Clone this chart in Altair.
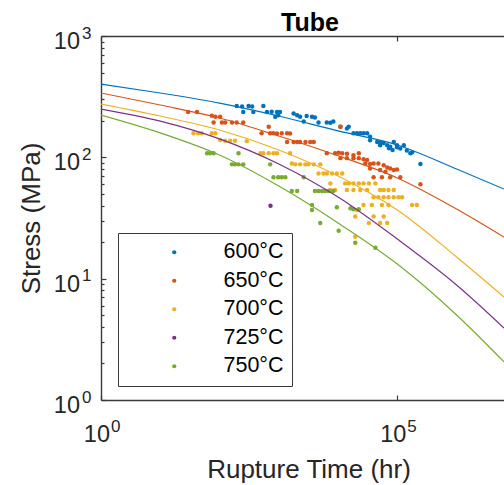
import altair as alt
import pandas as pd

# ---------------- data ----------------
temps = ["600°C", "650°C", "700°C", "725°C", "750°C"]
colors = ["#0072BD", "#D95319", "#EDB120", "#7E2F8E", "#77AC30"]

# test points: log10(rupture time, hr) and stress (MPa)
lt600 = [2.29, 2.38, 2.40, 2.49, 2.55, 2.57, 2.74, 2.80, 2.88, 2.97, 3.02, 2.94, 2.99, 3.25, 3.31,
         3.36, 3.42, 3.47, 3.56, 3.61, 3.67, 3.81, 3.87, 3.92, 4.04, 4.15, 4.18, 4.26, 4.32, 4.375,
         4.43, 4.49, 4.54, 4.54, 4.66, 4.71, 4.71, 4.77, 4.83, 4.86, 4.88, 4.92, 4.94, 4.995, 4.995,
         5.05, 5.11, 5.16, 5.22, 5.25, 5.39]
s600 = [265, 262, 236, 265, 262, 236, 265, 236, 238, 236, 236, 216, 222, 230, 222,
        216, 197, 219, 216, 213, 194, 194, 193, 197, 179, 173, 179, 158, 158, 158,
        158, 158, 148, 138, 134, 132, 126, 131, 126, 119, 122, 115, 134, 126, 121,
        118, 126, 114, 108, 110, 88]

lt650 = [1.47, 1.62, 1.87, 1.93, 2.01, 1.90, 2.04, 2.095, 2.21, 2.29, 2.40, 2.83, 2.71, 2.855, 2.91,
         2.97, 3.05, 3.14, 3.19, 3.14, 3.25, 3.31, 3.36, 3.45, 3.53, 3.59, 3.81, 3.95, 4.01, 4.07,
         4.15, 4.26, 4.35, 4.04, 4.15, 4.26, 4.35, 4.43, 4.49, 4.46, 4.54, 4.60, 4.68, 4.77, 4.83,
         4.88, 4.94, 4.995, 4.54, 4.71, 4.80, 4.60, 4.74, 4.88, 5.05, 5.39, 4.04]
s650 = [236, 236, 220, 216, 216, 194, 194, 194, 194, 194, 194, 179, 158, 158, 158,
        157, 158, 158, 157, 134, 134, 134, 134, 134, 134, 134, 108, 108, 109, 108,
        107, 104, 108, 98.5, 98.5, 98.5, 98.5, 96.5, 95, 89, 88, 89, 89, 86, 82.5,
        81, 78.7, 79.5, 81, 78.7, 76, 68.5, 68.5, 68.5, 68.5, 60, 179]

lt700 = [1.56, 1.64, 1.70, 1.87, 1.93, 2.01, 2.095, 2.18, 2.26, 2.46, 2.69, 2.74, 2.83, 2.91, 2.97,
         3.19, 3.22, 3.28, 3.36, 3.45, 3.50, 3.59, 3.70, 3.67, 3.755, 3.81, 3.90, 3.98, 4.07, 3.87,
         4.12, 4.18, 4.26, 4.35, 4.43, 4.52, 4.63, 3.87, 3.95, 4.15, 4.26, 4.375, 4.49, 4.71, 4.77,
         4.85, 4.94, 4.60, 4.68, 4.77, 4.85, 4.94, 5.02, 5.08, 4.43, 4.57, 4.74, 4.85, 5.25, 5.33,
         4.32, 4.29, 4.60, 4.77, 4.52, 4.71, 4.83, 4.29]
s700 = [158, 158, 158, 158, 158, 139, 137, 137, 137, 136, 108, 108, 108, 108, 108,
        108, 89, 87.5, 87.5, 87.5, 87.5, 87.5, 87.5, 73.5, 73.5, 73.5, 73.5, 73.5, 73.5, 61,
        61, 61, 61, 61, 61, 61, 61, 53.8, 53.8, 53.8, 53.8, 53.8, 53.8, 53.8, 53.8,
        53.8, 53.8, 46.8, 46.8, 46.8, 46.8, 46.8, 46.8, 46.8, 40.5, 40.5, 40.5, 40.5, 40.5, 40.5,
        36.8, 32.5, 32.5, 32.5, 28.8, 28.8, 28.8, 22.2]

lt725 = [2.86]
s725 = [39.9]

lt750 = [1.79, 1.84, 1.90, 2.32, 2.21, 2.26, 2.32, 2.40, 2.855, 2.91, 2.99, 3.05, 3.11, 3.42, 3.22,
         3.31, 3.61, 3.67, 3.73, 3.78, 3.84, 3.92, 3.56, 3.56, 3.98, 4.21, 4.26, 4.35, 3.70, 4.01,
         4.29, 4.63]
s750 = [108, 108, 108, 108, 87.5, 87.5, 87.5, 87.5, 87.5, 68.5, 68.5, 68.5, 68.5, 68.5, 52.7,
        52.7, 52.7, 52.7, 52.7, 52.7, 52.7, 52.7, 40.5, 36.8, 38.7, 38, 37.3, 37.3, 28.8, 24.8,
        19.8, 18]

# fitted curves, read at each decade of rupture time
fit_lt = [0, 1, 2, 3, 4, 5, 6, 6.8]
fit600 = [402, 339, 280, 219, 165, 126.4, 80.2, 54.8]
fit650 = [339, 270, 211, 150, 103, 67.6, 37.5, 22.0]
fit700 = [275, 219, 168, 115, 70.2, 36.8, 15.1, 7.06]
fit725 = [250, 199, 142, 88.2, 47.1, 21.2, 8.87, 3.92]
fit750 = [223, 159, 104.5, 58, 28.8, 13.2, 5.02, 2.06]

# axis tick labels
y_tick_vals = [1, 10, 100, 1000]
y_tick_exp = ["0", "1", "2", "3"]
x_tick_vals = [1, 100000]
x_tick_exp = ["0", "5"]
y_minor = [m * 10 ** k for k in range(3) for m in range(2, 10)]

# ---------------- tables ----------------
pt_rows = []
for name, lts, ss in zip(temps, [lt600, lt650, lt700, lt725, lt750], [s600, s650, s700, s725, s750]):
    for lt, s in zip(lts, ss):
        pt_rows.append({"temp": name, "time": 10 ** lt, "stress": s})
pts_df = pd.DataFrame(pt_rows)

fit_rows = []
for name, ss in zip(temps, [fit600, fit650, fit700, fit725, fit750]):
    for lt, s in zip(fit_lt, ss):
        fit_rows.append({"temp": name, "time": 10 ** lt, "stress": s})
fit_df = pd.DataFrame(fit_rows)

ylab_df = pd.DataFrame({"v": y_tick_vals, "e": y_tick_exp, "b": ["10"] * 4})
xlab_df = pd.DataFrame({"v": x_tick_vals, "e": x_tick_exp, "b": ["10"] * 2})

# ---------------- styling ----------------
W, H = 403, 364
FONT = "Liberation Sans"
FR = "#3a3a3a"
TXT = "#262626"

xscale = alt.Scale(type="log", domain=[1, 10 ** 6.8], nice=False)
yscale = alt.Scale(type="log", domain=[1, 1000], nice=False)

pts = alt.Chart(pts_df).mark_circle(size=20, opacity=1).encode(
    x=alt.X("time:Q", scale=xscale,
            axis=alt.Axis(orient="bottom", offset=-H, values=x_tick_vals, labels=False, ticks=True,
                          tickSize=5, tickColor=FR, tickWidth=1.2, domain=True, domainColor=FR,
                          domainWidth=1.4, grid=False, title="Tube",
                          titleX=208.5, titleY=-6, titleAlign="center", titleBaseline="alphabetic",
                          titleFont=FONT, titleFontSize=25, titleFontWeight="bold", titleColor="black")),
    y=alt.Y("stress:Q", scale=yscale,
            axis=alt.Axis(orient="right", offset=-W, values=y_minor, labels=False, ticks=True,
                          tickSize=3, tickColor=FR, tickWidth=1.2, domain=False, grid=False, title=None)),
    color=alt.Color("temp:N", scale=alt.Scale(domain=temps, range=colors),
                    legend=alt.Legend(orient="none", legendX=17, legendY=197, title=None,
                                      direction="vertical", padding=8.5, symbolType="circle",
                                      symbolSize=18, symbolStrokeWidth=0, symbolOffset=37,
                                      labelOffset=38.5, labelFont=FONT, labelFontSize=21.5,
                                      labelColor="black", rowPadding=5.5, strokeColor=FR,
                                      fillColor="white")),
)

lines = alt.Chart(fit_df).mark_line(strokeWidth=1.2, clip=True, interpolate="monotone").encode(
    x=alt.X("time:Q", scale=xscale,
            axis=alt.Axis(orient="top", offset=-H, values=x_tick_vals, labels=False, ticks=True,
                          tickSize=5, tickColor=FR, tickWidth=1.2, domain=True, domainColor=FR,
                          domainWidth=1.4, grid=False, title="Rupture Time (hr)",
                          titleX=207.5, titleY=77, titleAlign="center", titleBaseline="alphabetic",
                          titleFont=FONT, titleFontSize=26, titleFontWeight="normal", titleColor=TXT)),
    y=alt.Y("stress:Q", scale=yscale,
            axis=alt.Axis(orient="right", offset=-W, values=y_tick_vals, labels=False, ticks=True,
                          tickSize=5, tickColor=FR, tickWidth=1.2, domain=True, domainColor=FR,
                          domainWidth=1.4, grid=False, title="Stress (MPa)",
                          titleX=-61.5, titleY=182, titleAngle=270, titleAlign="center",
                          titleBaseline="alphabetic", titleFont=FONT, titleFontSize=26,
                          titleFontWeight="normal", titleColor=TXT)),
    stroke=alt.Stroke("temp:N", scale=alt.Scale(domain=temps, range=colors), legend=None),
)

ylab_base = alt.Chart(ylab_df).mark_text(align="right", baseline="alphabetic", dx=-21, dy=13,
                                         font=FONT, fontSize=23.5, color=TXT).encode(
    x=alt.X(datum=1, type="quantitative", scale=xscale, axis=None),
    y=alt.Y("v:Q", scale=yscale, axis=None),
    text="b:N",
)
ylab_exp = alt.Chart(ylab_df).mark_text(align="left", baseline="alphabetic", dx=-19, dy=2.5,
                                        font=FONT, fontSize=17, color=TXT).encode(
    x=alt.X(datum=1, type="quantitative", scale=xscale, axis=None),
    y=alt.Y("v:Q", scale=yscale, axis=None),
    text="e:N",
)
xlab_base = alt.Chart(xlab_df).mark_text(align="right", baseline="alphabetic", dx=9, dy=42,
                                         font=FONT, fontSize=23.5, color=TXT).encode(
    x=alt.X("v:Q", scale=xscale, axis=None),
    y=alt.Y(datum=1, type="quantitative", scale=yscale, axis=None),
    text="b:N",
)
xlab_exp = alt.Chart(xlab_df).mark_text(align="left", baseline="alphabetic", dx=10, dy=32,
                                        font=FONT, fontSize=17, color=TXT).encode(
    x=alt.X("v:Q", scale=xscale, axis=None),
    y=alt.Y(datum=1, type="quantitative", scale=yscale, axis=None),
    text="e:N",
)

chart = alt.layer(pts, lines, ylab_base, ylab_exp, xlab_base, xlab_exp).resolve_axis(
    x="independent", y="independent"
).properties(
    width=W, height=H,
    autosize=alt.AutoSizeParams(type="none"),
    padding={"left": 101, "top": 36, "right": 0, "bottom": 85},
).configure_view(stroke=None).configure(background="white")

chart.save("out.html", embed_options={"renderer": "svg", "actions": False})
